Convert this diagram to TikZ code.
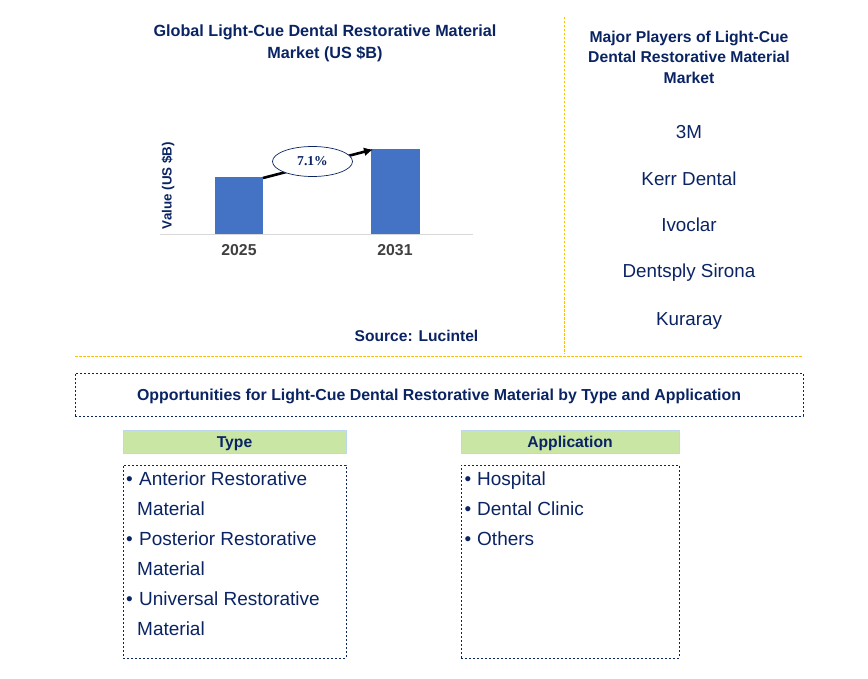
\documentclass[tikz,border=0pt]{standalone}
\usepackage{fontspec}
\setmainfont{Liberation Sans}
\newfontfamily\serifnum{Liberation Serif}
\usetikzlibrary{shapes.geometric,arrows.meta}
\definecolor{navy}{HTML}{0A2463}
\definecolor{barblue}{HTML}{4472C4}
\definecolor{gold}{HTML}{FFC000}
\definecolor{hdrgreen}{HTML}{C9E6A4}
\definecolor{hdrborder}{HTML}{BDD7EE}
\definecolor{axisgray}{HTML}{D9D9D9}
\definecolor{yeargray}{HTML}{404040}
\tikzset{
  ttl/.style={text=navy,font=\fontsize{16.2}{22}\selectfont\bfseries,align=center},
  player/.style={text=navy,font=\fontsize{18.8}{20}\selectfont,anchor=base},
  golddash/.style={draw=gold,line width=0.9pt,dash pattern=on 2.5pt off 1.5pt},
  dotbox/.style={draw=navy,line width=1pt,dash pattern=on 2pt off 2pt},
  hdr/.style={fill=hdrgreen,draw=hdrborder,line width=1pt},
  hdrtext/.style={text=navy,font=\fontsize{15.7}{17}\selectfont\bfseries,anchor=base,inner sep=0pt},
  item/.style={text=navy,font=\fontsize{19}{22}\selectfont,anchor=base west,inner sep=0pt},
  bul/.style={text=navy,font=\fontsize{19}{22}\selectfont,anchor=base,inner sep=0pt},
  yr/.style={text=yeargray,font=\fontsize{15.8}{17}\selectfont\bfseries}
}
\begin{document}
\begin{tikzpicture}[x=1pt,y=-1pt]
\useasboundingbox (0,0) rectangle (868,679);
% chart title
\node[ttl] (title) at (325,43.5) {Global Light-Cue Dental Restorative Material\\Market (US \$B)};
% axis
\coordinate (axl) at (160,234.5);
\coordinate (axr) at (473,234.5);
\draw[axisgray,line width=1pt] (axl) -- (axr);
\fill[barblue] (215,177) rectangle (263,234);
\fill[barblue] (371,149) rectangle (420,234);
\coordinate (b1top) at (263,178);
\coordinate (b2top) at (373,149.5);
\node[yr] (y1) at (239,250.5) {2025};
\node[yr] (y2) at (395,250.5) {2031};
\node[rotate=90,text=navy,font=\fontsize{13.4}{14}\selectfont\bfseries] (ylab) at (168,185.5) {Value (US \$B)};
% growth arrow
\draw[line width=2.6pt,-{Latex[length=9pt,width=9pt]}] (b1top) -- (b2top);
\node[ellipse,draw=navy,line width=0.7pt,fill=white,minimum width=80pt,minimum height=30pt,inner sep=0pt,font=\serifnum\fontsize{13.6}{14}\selectfont\bfseries,text=navy] (cagr) at (312.5,161.5) {7.1\%};
\node[text=navy,font=\fontsize{15.6}{17}\selectfont\bfseries] (src) at (416.5,335.5) {Source: Lucintel};
% separators
\coordinate (vt) at (564,17);
\coordinate (vb) at (564,354);
\coordinate (hl) at (75,356);
\coordinate (hr) at (803,356);
\draw[golddash] (vt) -- (vb);
\draw[golddash] (hl) -- (hr);
% players
\node[ttl,font=\fontsize{15.7}{20.5}\selectfont\bfseries] (ptitle) at (689,57) {Major Players of Light-Cue\\Dental Restorative Material\\Market};
\node[player] (p1) at (689,139) {3M};
\node[player] (p2) at (689,186) {Kerr Dental};
\node[player] (p3) at (689,232) {Ivoclar};
\node[player] (p4) at (689,278) {Dentsply Sirona};
\node[player] (p5) at (689,325) {Kuraray};
% opportunities
\node[dotbox,minimum width=728pt,minimum height=43pt,inner sep=0pt] (opp) at (439,394.5) {};
\node[text=navy,font=\fontsize{15.9}{17}\selectfont\bfseries,anchor=base,inner sep=0pt] (opptext) at (439,400) {Opportunities for Light-Cue Dental Restorative Material by Type and Application};
% type
\node[hdr,minimum width=223pt,minimum height=23pt,inner sep=0pt] (typeh) at (234.5,441.5) {};
\node[hdrtext] (typet) at (234.5,447) {Type};
\node[dotbox,minimum width=223pt,minimum height=193pt,inner sep=0pt] (typeb) at (234.5,561.5) {};
\node[bul] (tb1) at (129.5,485) {\textbullet};
\node[item] (t1) at (139,485) {Anterior Restorative};
\node[item] (t1b) at (137,515) {Material};
\node[bul] (tb2) at (129.5,545) {\textbullet};
\node[item] (t2) at (139,545) {Posterior Restorative};
\node[item] (t2b) at (137,575) {Material};
\node[bul] (tb3) at (129.5,605) {\textbullet};
\node[item] (t3) at (139,605) {Universal Restorative};
\node[item] (t3b) at (137,635) {Material};
% application
\node[hdr,minimum width=218pt,minimum height=23pt,inner sep=0pt] (apph) at (570,441.5) {};
\node[hdrtext] (appt) at (570,447) {Application};
\node[dotbox,minimum width=218pt,minimum height=193pt,inner sep=0pt] (appb) at (570,561.5) {};
\node[bul] (ab1) at (468,485) {\textbullet};
\node[item] (a1) at (477,485) {Hospital};
\node[bul] (ab2) at (468,515) {\textbullet};
\node[item] (a2) at (477,515) {Dental Clinic};
\node[bul] (ab3) at (468,545) {\textbullet};
\node[item] (a3) at (477,545) {Others};
\end{tikzpicture}
\end{document}
